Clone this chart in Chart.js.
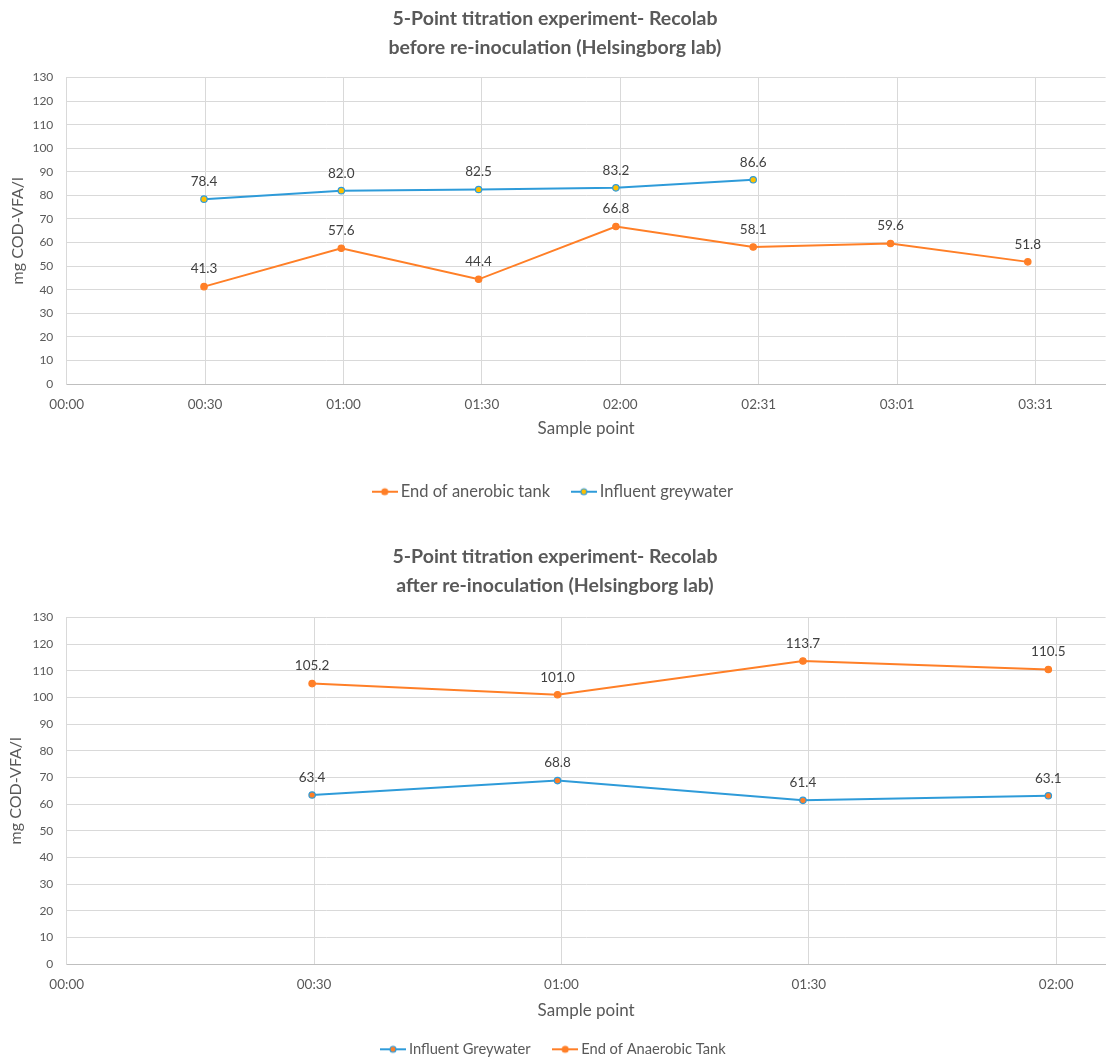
<!DOCTYPE html>
<html>
<head>
<meta charset="utf-8">
<script src="https://cdn.jsdelivr.net/npm/chart.js@4.4.0/dist/chart.umd.min.js"></script>
<style>
html, body { margin: 0; padding: 0; background: #fff; overflow: hidden; }
#topBox { position: absolute; left: 0; top: 0; width: 1110px; height: 520px; }
#bottomBox { position: absolute; left: 0; top: 520px; width: 1110px; height: 554px; }
</style>
</head>
<body>
<div id="topBox"><canvas id="beforeChart"></canvas></div>
<div id="bottomBox"><canvas id="afterChart"></canvas></div>
<script>
// before re-inoculation (minutes after start)
const beforeTankTimes = [30, 60, 90, 120, 150, 180, 210];
const beforeTank = [41.3, 57.6, 44.4, 66.8, 58.1, 59.6, 51.8];
const beforeInfluentTimes = [30, 60, 90, 120, 150];
const beforeInfluent = [78.4, 82.0, 82.5, 83.2, 86.6];
const beforeTicks = [0, 30.24, 60.48, 90.72, 120.96, 151.2, 181.44, 211.68];
const beforeTickLabels = ['00:00', '00:30', '01:00', '01:30', '02:00', '02:31', '03:01', '03:31'];

// after re-inoculation
const afterTimes = [30, 60, 90, 120];
const afterInfluent = [63.4, 68.8, 61.4, 63.1];
const afterTank = [105.2, 101.0, 113.7, 110.5];
const afterTicks = [0, 30.24, 60.48, 90.72, 120.96];
const afterTickLabels = ['00:00', '00:30', '01:00', '01:30', '02:00'];

const ORANGE = '#FF7F27';
const BLUE = '#2E9BD9';
const YELLOW = '#FFC000';
const TEXT = '#595959';

Chart.defaults.font.family = 'Lato';
Chart.defaults.color = TEXT;

const toPoints = (xs, ys) => xs.map((x, i) => ({ x: x, y: ys[i] }));

// value labels above every point
const valueLabels = {
    id: 'valueLabels',
    afterDatasetsDraw(chart) {
        const ctx = chart.ctx;
        ctx.save();
        ctx.font = '13.5px Lato';
        ctx.fillStyle = '#404040';
        ctx.textAlign = 'center';
        ctx.textBaseline = 'middle';
        chart.data.datasets.forEach((ds, i) => {
            chart.getDatasetMeta(i).data.forEach((pt, j) => {
                ctx.fillText(ds.data[j].y.toFixed(1), pt.x, pt.y - 17.5);
            });
        });
        ctx.restore();
    }
};

// little line + marker icon for the legend
function legendIcon(line, fill, border) {
    const c = document.createElement('canvas');
    c.width = 26;
    c.height = 10;
    const g = c.getContext('2d');
    g.strokeStyle = line;
    g.lineWidth = 2;
    g.beginPath(); g.moveTo(0, 5); g.lineTo(26, 5); g.stroke();
    g.beginPath(); g.arc(13, 5, 3, 0, Math.PI * 2);
    g.fillStyle = fill; g.fill();
    g.lineWidth = 1.2; g.strokeStyle = border; g.stroke();
    return c;
}

function series(label, pts, line, fill, border) {
    return {
        label: label,
        data: pts,
        borderColor: line,
        borderWidth: 2,
        pointRadius: 3.2,
        pointHoverRadius: 3.2,
        pointBackgroundColor: fill,
        pointBorderColor: border,
        pointBorderWidth: 1.2,
        tension: 0,
        icon: legendIcon(line, fill, border)
    };
}

function makeOptions(c) {
    return {
        responsive: true,
        maintainAspectRatio: false,
        animation: false,
        layout: { padding: { left: 0, right: 0, top: 0, bottom: c.bottomPad } },
        plugins: {
            title: {
                display: true,
                text: c.title,
                color: TEXT,
                font: { size: 19.5, weight: 'bold', lineHeight: 1.5 },
                padding: c.titlePad
            },
            legend: {
                position: 'bottom',
                labels: {
                    usePointStyle: true,
                    pointStyleWidth: c.legendBox,
                    padding: 26,
                    color: TEXT,
                    font: { size: c.legendFont },
                    generateLabels: (chart) => {
                        const items = Chart.defaults.plugins.legend.labels.generateLabels(chart);
                        items.forEach(it => { it.pointStyle = chart.data.datasets[it.datasetIndex].icon; });
                        return items;
                    }
                }
            },
            tooltip: { enabled: false }
        },
        scales: {
            x: {
                type: 'linear',
                min: 0,
                max: c.xMax,
                afterBuildTicks: (axis) => { axis.ticks = c.ticks.map(v => ({ value: v })); },
                afterFit: (axis) => { axis.height = c.xHeight; },
                ticks: {
                    padding: 12.5,
                    font: { size: 13.5 },
                    color: TEXT,
                    callback: (v, i) => c.tickLabels[i]
                },
                grid: { color: '#D9D9D9', drawTicks: false },
                border: { color: '#BFBFBF' },
                title: {
                    display: true,
                    text: 'Sample point',
                    color: TEXT,
                    font: { size: 17, lineHeight: 1.2 },
                    padding: { top: 0, bottom: c.xTitleBottom }
                }
            },
            y: {
                min: 0,
                max: 130,
                afterFit: (axis) => { axis.width = 66.7; },
                ticks: { stepSize: 10, padding: 13.4, font: { size: 12 }, color: TEXT },
                grid: {
                    drawTicks: false,
                    color: (ctx) => ctx.tick && ctx.tick.value === 0 ? 'rgba(0,0,0,0)' : '#D9D9D9'
                },
                border: { color: '#D9D9D9' },
                title: {
                    display: true,
                    text: 'mg COD-VFA/l',
                    color: TEXT,
                    font: { size: 16, lineHeight: 1.2 },
                    padding: { top: c.yTitleLeft, bottom: 0 }
                }
            }
        }
    };
}

// 1. before re-inoculation
try {
    new Chart(document.getElementById('beforeChart'), {
        type: 'line',
        data: {
            datasets: [
                series('End of anerobic tank', toPoints(beforeTankTimes, beforeTank), ORANGE, ORANGE, ORANGE),
                series('Influent greywater', toPoints(beforeInfluentTimes, beforeInfluent), BLUE, YELLOW, BLUE)
            ]
        },
        options: makeOptions({
            title: ['5-Point titration experiment- Recolab', 'before re-inoculation (Helsingborg lab)'],
            titlePad: { top: 4, bottom: 15 },
            bottomPad: 10,
            xMax: 227.0,
            xHeight: 73.5,
            xTitleBottom: 18.9,
            ticks: beforeTicks,
            tickLabels: beforeTickLabels,
            legendBox: 15.5,
            legendFont: 16.5,
            yTitleLeft: 8.4
        }),
        plugins: [valueLabels]
    });
} catch (e) { console.error('Crash in beforeChart', e); }

// 2. after re-inoculation
try {
    new Chart(document.getElementById('afterChart'), {
        type: 'line',
        data: {
            datasets: [
                series('Influent Greywater', toPoints(afterTimes, afterInfluent), BLUE, ORANGE, BLUE),
                series('End of Anaerobic Tank', toPoints(afterTimes, afterTank), ORANGE, ORANGE, ORANGE)
            ]
        },
        options: makeOptions({
            title: ['5-Point titration experiment- Recolab', 'after re-inoculation (Helsingborg lab)'],
            titlePad: { top: 22, bottom: 17 },
            bottomPad: 7.35,
            xMax: 127.0,
            xHeight: 51.95,
            xTitleBottom: -4.35,
            ticks: afterTicks,
            tickLabels: afterTickLabels,
            legendBox: 17.3,
            legendFont: 14.7,
            yTitleLeft: 6
        }),
        plugins: [valueLabels]
    });
} catch (e) { console.error('Crash in afterChart', e); }
</script>
</body>
</html>
